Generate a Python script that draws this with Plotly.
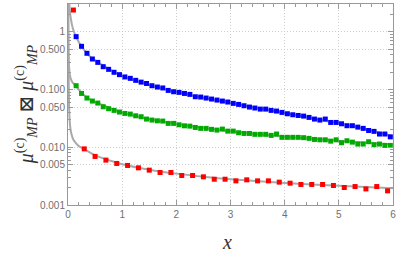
import plotly.graph_objects as go

# ---------------- data ----------------
blue_x = [round(0.15 + 0.1 * i, 2) for i in range(59)]
blue_y = [0.83, 0.564, 0.427, 0.34, 0.297, 0.25, 0.225, 0.2, 0.182, 0.166,
          0.157, 0.145, 0.135, 0.128, 0.117, 0.111, 0.107, 0.097, 0.092, 0.0897,
          0.086, 0.0828, 0.0753, 0.0744, 0.0715, 0.0687, 0.066, 0.0634, 0.061, 0.0578,
          0.0555, 0.0526, 0.0499, 0.048, 0.046, 0.046, 0.0437, 0.0425, 0.0403, 0.0382,
          0.0367, 0.0357, 0.0348, 0.033, 0.0309, 0.0297, 0.0309, 0.027, 0.027, 0.0256,
          0.0237, 0.0237, 0.0224, 0.0213, 0.0196, 0.0189, 0.017, 0.017, 0.0152]

green_x = [round(0.15 + 0.1 * i, 2) for i in range(59)]
green_y = [0.117, 0.086, 0.0715, 0.0634, 0.0585, 0.0505, 0.0467, 0.0437, 0.0409, 0.0387,
           0.0377, 0.0352, 0.0339, 0.0309, 0.0297, 0.0288, 0.0285, 0.026, 0.026, 0.0246,
           0.0236, 0.0233, 0.0221, 0.0213, 0.0213, 0.0205, 0.0199, 0.0207, 0.0191, 0.0191,
           0.0179, 0.0174, 0.0174, 0.0168, 0.0168, 0.0168, 0.0161, 0.017, 0.0149, 0.0149,
           0.0149, 0.0149, 0.0147, 0.0143, 0.0137, 0.0135, 0.0135, 0.0128, 0.0135, 0.012,
           0.013, 0.0123, 0.0114, 0.0114, 0.0125, 0.0111, 0.0114, 0.0108, 0.0108]

red_x = [round(0.1 + 0.2 * i, 2) for i in range(30)]
red_y = [2.4, 0.0094, 0.00695, 0.006, 0.00525, 0.00485, 0.00441, 0.00402, 0.00366, 0.00366,
         0.00325, 0.00325, 0.00308, 0.0028, 0.0028, 0.00262, 0.00273, 0.00262, 0.00262, 0.00249,
         0.00239, 0.00227, 0.00227, 0.00227, 0.00218, 0.00201, 0.00209, 0.0019, 0.00209, 0.00176]

# gray reference curves
curve_blue_x = [0.02, 0.03, 0.045, 0.06, 0.08, 0.1, 0.15, 0.25, 0.4, 0.6, 0.8, 1.0,
                1.5, 2, 2.5, 3, 3.5, 4, 4.5, 5, 5.5, 6]
curve_blue_y = [3.6, 2.6, 1.9, 1.55, 1.25, 1.07, 0.82, 0.56, 0.38, 0.28, 0.215, 0.172,
                0.12, 0.091, 0.072, 0.059, 0.048, 0.0395, 0.032, 0.026, 0.0205, 0.0155]
curve_green_x = [0.003, 0.006, 0.01, 0.02, 0.03, 0.05, 0.08, 0.15, 0.25, 0.4, 0.6, 1.0,
                 1.5, 2, 3, 4, 5, 6]
curve_green_y = [3.5, 1.0, 0.45, 0.25, 0.19, 0.155, 0.135, 0.115, 0.088, 0.068, 0.056, 0.040,
                 0.031, 0.0255, 0.019, 0.0152, 0.013, 0.0112]
curve_red_x = [0.003, 0.006, 0.01, 0.015, 0.02, 0.03, 0.045, 0.06, 0.1, 0.15, 0.2, 0.3,
               0.45, 0.6, 0.8, 1.0, 1.5, 2, 2.5, 3, 4, 5, 6]
curve_red_y = [3.5, 1.2, 0.3, 0.1, 0.05, 0.03, 0.021, 0.0175, 0.0135, 0.0117, 0.0105, 0.0093,
               0.0077, 0.0067, 0.0058, 0.0051, 0.0041, 0.0035, 0.0031, 0.0028, 0.0024, 0.00215, 0.00195]

x_ticks = [0, 1, 2, 3, 4, 5, 6]
y_ticks = [0.001, 0.005, 0.01, 0.05, 0.1, 0.5, 1]
y_tick_text = ["0.001", "0.005", "0.010", "0.050", "0.100", "0.500", "1"]

# ---------------- figure ----------------
fig = go.Figure()
gray = "rgb(170,170,170)"
for cx, cy in [(curve_blue_x, curve_blue_y), (curve_green_x, curve_green_y), (curve_red_x, curve_red_y)]:
    fig.add_trace(go.Scatter(x=cx, y=cy, mode="lines", line=dict(color=gray, width=2, shape="spline", smoothing=0.8),
                             hoverinfo="skip", cliponaxis=True))

for xs, ys, col in [(blue_x, blue_y, "rgb(0,0,255)"), (green_x, green_y, "rgb(0,170,0)"), (red_x, red_y, "rgb(255,0,0)")]:
    fig.add_trace(go.Scatter(x=xs, y=ys, mode="markers",
                             marker=dict(symbol="square", size=5, color=col, line=dict(width=0))))

axis_common = dict(
    showline=True, linecolor="#999999", linewidth=1, mirror="allticks",
    ticks="inside", ticklen=5, tickcolor="#999999", tickwidth=1,
    showgrid=True, gridcolor="#cfcfcf", griddash="1px,2px", gridwidth=1,
    zeroline=False,
    tickfont=dict(family="Liberation Sans, Arial", size=10, color="#707070"),
)

fig.update_xaxes(range=[0, 6], tickvals=x_ticks, ticktext=[str(v) for v in x_ticks],
                 minor=dict(ticks="inside", ticklen=3, tickcolor="#999999", dtick=0.2, showgrid=False),
                 **axis_common)
fig.update_yaxes(type="log", range=[-3, 0.485], tickvals=y_ticks, ticktext=y_tick_text,
                 minor=dict(ticks="inside", ticklen=3, tickcolor="#999999", dtick="D1", showgrid=False),
                 **axis_common)

fig.add_annotation(text="<i>μ</i><sup>(c)</sup><sub><i>MP</i></sub> ⊠ <i>μ</i><sup>(c)</sup><sub><i>MP</i></sub>",
                   xref="paper", yref="paper", x=-0.13, y=0.5, textangle=-90, showarrow=False,
                   xanchor="center", yanchor="middle",
                   font=dict(family="Liberation Serif, DejaVu Serif", size=20, color="#333333"))
fig.add_annotation(text="<i>x</i>", xref="paper", yref="paper", x=0.49, y=-0.185, showarrow=False,
                   xanchor="center", yanchor="middle",
                   font=dict(family="Liberation Serif, DejaVu Serif", size=20, color="#333333"))

fig.update_layout(width=399, height=258, margin=dict(l=68, r=6, t=4, b=53),
                  plot_bgcolor="white", paper_bgcolor="white", showlegend=False)

fig.write_html("out.html", config={"displayModeBar": False},
               post_script="document.body.style.margin='0';document.body.style.overflow='hidden';")
